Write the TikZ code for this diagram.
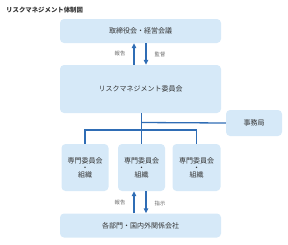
\documentclass[tikz,border=0pt]{standalone}
\usepackage{fontspec}
\setmainfont{Noto Sans CJK JP}
\usetikzlibrary{arrows.meta}
\definecolor{boxfill}{HTML}{D6E9F8}
\definecolor{linecol}{HTML}{2F6DB5}
\definecolor{txt}{HTML}{333333}
\definecolor{lbl}{HTML}{666666}
\tikzset{
  box/.style={fill=boxfill, draw=none, rounded corners=4pt, inner sep=0pt, text=txt, font=\fontsize{7}{8}\selectfont, align=center},
  conn/.style={draw=linecol, line width=1.3pt},
  arr/.style={draw=linecol, line width=1.3pt, -{Triangle[length=5pt,width=4.5pt]}},
  lab/.style={text=lbl, font=\fontsize{5.3}{6}\selectfont, inner sep=0pt}
}
\begin{document}
\begin{tikzpicture}[x=1pt,y=-1pt]
\useasboundingbox (0,0) rectangle (288,244);
\node[anchor=west, text=txt, font=\bfseries\fontsize{6.4}{7}\selectfont, inner sep=0pt] (title) at (6,10.5) {リスクマネジメント体制図};
\node[box, minimum width=161pt, minimum height=24pt] (top) at (140.5,31) {取締役会・経営会議};
\node[box, minimum width=161pt, minimum height=48pt] (com) at (140.5,89) {リスクマネジメント委員会};
\node[box, minimum width=56pt, minimum height=26pt] (jimu) at (254,123) {事務局};
\node[box, minimum width=47pt, minimum height=47pt] (s1) at (85,167.5) {専門委員会\\[-1pt]・\\[-1pt]組織};
\node[box, minimum width=47pt, minimum height=47pt] (s2) at (141.5,167.5) {専門委員会\\[-1pt]・\\[-1pt]組織};
\node[box, minimum width=48pt, minimum height=47pt] (s3) at (196.5,167.5) {専門委員会\\[-1pt]・\\[-1pt]組織};
\node[box, minimum width=161pt, minimum height=24pt] (bot) at (140.5,225.5) {各部門・国内外関係会社};
% arrows top <-> committee
\coordinate (xa) at (134,0);
\coordinate (xb) at (146,0);
\draw[arr] (com.north -| xa) -- (top.south -| xa);
\draw[arr] (top.south -| xb) -- (com.north -| xb);
\node[lab] (l1) at (120,54) {報告};
\node[lab] (l2) at (160,54) {監督};
% committee to branches
\coordinate (jb) at (141.5,122.5);
\coordinate (br) at (141.5,130);
\draw[conn] (com.south -| s2) -- (s2.north);
\draw[conn] (jb) -- (jimu.west);
\draw[conn] (s1.north) -- (s1.north |- br) -- (s3.north |- br) -- (s3.north);
% arrows bottom <-> s2
\draw[arr] (bot.north -| xa) -- (s2.south -| xa);
\draw[arr] (s2.south -| xb) -- (bot.north -| xb);
\node[lab] (l3) at (120,203) {報告};
\node[lab] (l4) at (160,203) {指示};
\end{tikzpicture}
\end{document}
